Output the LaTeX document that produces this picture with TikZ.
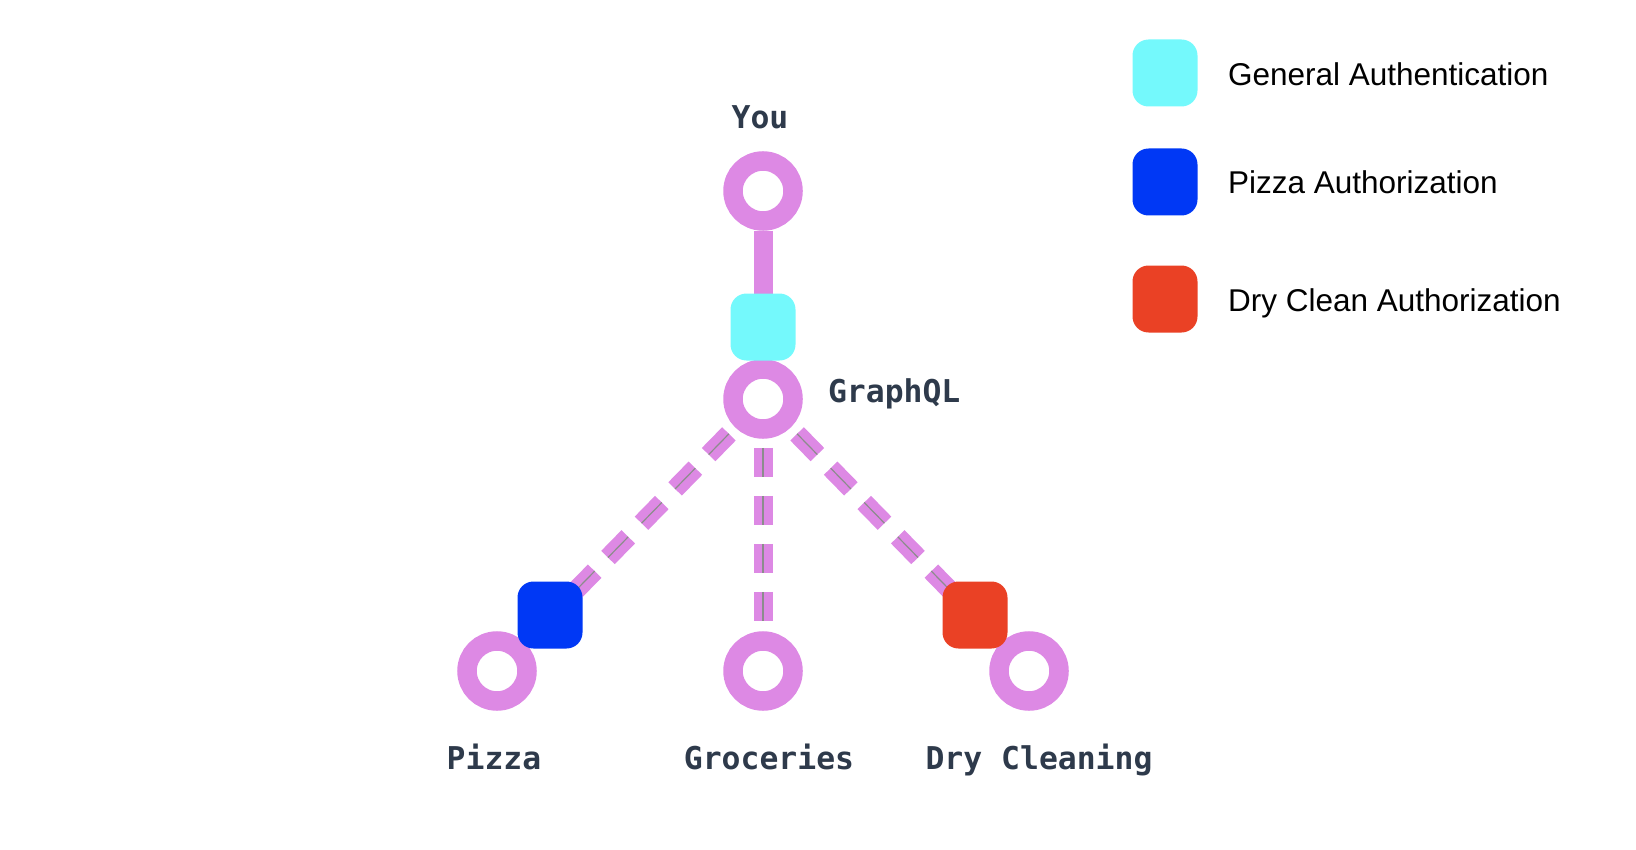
\documentclass[tikz,border=0pt]{standalone}
\usepackage{fontspec}
\setmainfont{Liberation Sans}
\newfontfamily\codefont{DejaVu Sans Mono}
\usetikzlibrary{positioning}
\definecolor{lilac}{HTML}{DD89E4}
\definecolor{authcyan}{HTML}{74F9FC}
\definecolor{pizzablue}{HTML}{0038F5}
\definecolor{cleanred}{HTML}{EA4125}
\definecolor{slate}{HTML}{2E3A4B}
\definecolor{midline}{HTML}{8C8C8C}

\begin{document}
\begin{tikzpicture}[x=0.5pt, y=-0.5pt,
  ring/.style   = {circle, draw=lilac, line width=9.75pt, minimum size=30pt,
                   inner sep=0pt, fill=white},
  gate/.style   = {rounded corners=8pt, minimum width=32.5pt,
                   minimum height=33.5pt, inner sep=0pt},
  tag/.style    = {font=\codefont\bfseries\fontsize{15.7pt}{19pt}\selectfont,
                   text=slate, anchor=base},
  key/.style    = {font=\fontsize{15.75pt}{19pt}\selectfont, anchor=base west},
  trunk/.style  = {draw=lilac, line width=9.5pt},
  branch/.style = {draw=lilac, line width=9.5pt, dash pattern=on 14.5pt off 9.5pt,
                   shorten <=4.5pt, shorten >=4.5pt,
                   postaction={draw=midline, line width=0.6pt}},
]
\useasboundingbox (0,0) rectangle (1636,850);

% ========== Services ==========
\node[ring] (you)   at (763, 191) {};
\node[ring] (gql)   at (763, 399) {};
\node[ring] (pizza) at (497, 671) {};
\node[ring] (groc)  at (763, 671) {};
\node[ring] (dry)   at (1029, 671) {};

\node[tag] (youlbl)   at (760, 129) {You};
\node[tag, anchor=base west] (gqllbl) at (821, 402) {GraphQL};
\node[tag] (pizzalbl) at (494, 769) {Pizza};
\node[tag] (groclbl)  at (769, 769) {Groceries};
\node[tag] (drylbl)   at (1039, 769) {Dry Cleaning};

% ========== Links ==========
\draw[trunk]  (you) -- (gql);
\draw[branch] (gql) -- (pizza);
\draw[branch] (gql) -- (groc);
\draw[branch] (gql) -- (dry);

% ========== Auth checks on the links ==========
\node[gate, fill=authcyan]  (authgen)   at (763, 327) {};
\node[gate, fill=pizzablue] (authpizza) at (550, 615) {};
\node[gate, fill=cleanred]  (authdry)   at (975, 615) {};

% ========== Legend ==========
\node[gate, fill=authcyan]  (keygen)   at (1165, 73)  {};
\node[gate, fill=pizzablue] (keypizza) at (1165, 182) {};
\node[gate, fill=cleanred]  (keydry)   at (1165, 299) {};

\node[key] (keygenlbl)   at (1221, 86)  {General Authentication};
\node[key] (keypizzalbl) at (1221, 194) {Pizza Authorization};
\node[key] (keydrylbl)   at (1221, 311) {Dry Clean Authorization};

\end{tikzpicture}
\end{document}
